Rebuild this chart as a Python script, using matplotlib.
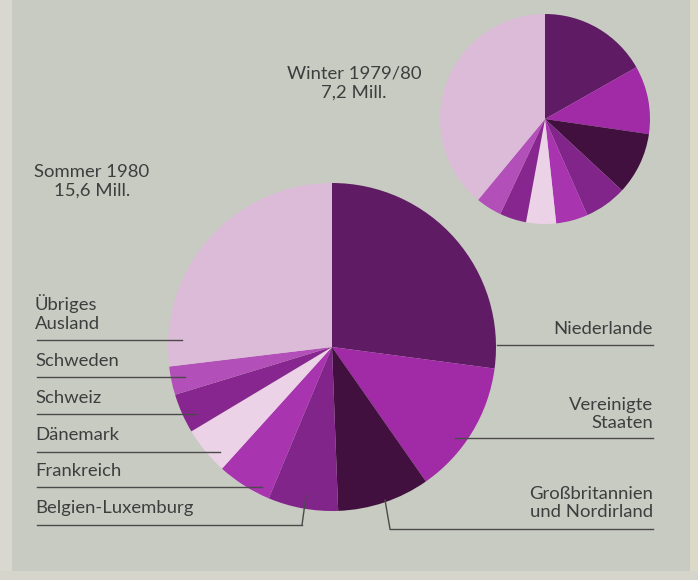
import numpy as np
import matplotlib.pyplot as plt
from matplotlib.patches import Rectangle

plt.rcParams['font.family'] = ['Lato', 'DejaVu Sans']

# Anteile (in %) der Übernachtungen von Auslandsgästen
laender = ['Niederlande', 'Vereinigte\nStaaten', 'Großbritannien\nund Nordirland',
           'Belgien-Luxemburg', 'Frankreich', 'Dänemark', 'Schweiz', 'Schweden',
           'Übriges\nAusland']
sommer_1980 = [27.1, 13.2, 9.1, 6.9, 5.4, 4.7, 3.9, 2.8, 26.9]
winter_1979 = [16.8, 10.5, 9.6, 6.5, 4.9, 4.6, 4.1, 4.0, 39.0]
titel_sommer = 'Sommer 1980\n15,6 Mill.'
titel_winter = 'Winter 1979/80\n7,2 Mill.'

farben = ['#5f1b63', '#a12ba6', '#41103f', '#82258a', '#a834b0',
          '#ecd2e6', '#88268f', '#b34fb8', '#dcbbd8']

bg = '#c8cbc2'
txt = '#3e3e3e'
W, H = 698, 580

fig = plt.figure(figsize=(W / 100, H / 100), dpi=100)
fig.patch.set_facecolor(bg)
ax = fig.add_axes([0, 0, 1, 1])
ax.set_facecolor(bg)

# y axis runs downwards (pixel-like), so counterclock=True draws clockwise on screen
big_c, big_r = (332, 347), 164
small_c, small_r = (545, 119), 105

ax.pie(sommer_1980, colors=farben, center=big_c, radius=big_r,
       startangle=-90, counterclock=True, frame=True,
       wedgeprops=dict(linewidth=0))
ax.pie(winter_1979, colors=farben, center=small_c, radius=small_r,
       startangle=-90, counterclock=True, frame=True,
       wedgeprops=dict(linewidth=0))

ax.set_xlim(0, W)
ax.set_ylim(H, 0)
ax.set_aspect('equal')
ax.axis('off')

# scan borders
ax.add_patch(Rectangle((0, 0), 12, H, color='#d8d8ce', lw=0, zorder=0.5))
ax.add_patch(Rectangle((690, 0), W - 690, H, color='#ddd9c9', lw=0, zorder=0.5))
ax.add_patch(Rectangle((0, 571), W, H - 571, color='#d6d5cb', lw=0, zorder=0.5))

fs = 13.3
ls = 1.2
ax.text(354, 83, titel_winter, ha='center', va='center', fontsize=fs,
        color=txt, linespacing=ls)
ax.text(92, 181, titel_sommer, ha='center', va='center', fontsize=fs,
        color=txt, linespacing=ls)

lc = '#4a4a4a'
# left side labels: (index, text y, line y, line end x)
links = [(8, 313, 340, 182), (7, 361, 377, 185), (6, 398, 414, 197),
         (5, 435, 452, 220), (4, 471, 487, 262), (3, 508, 525, 302)]
for i, ty, ly, ex in links:
    ax.text(35, ty, laender[i], ha='left', va='center', fontsize=fs,
            color=txt, linespacing=ls)
    ax.plot([37, ex], [ly, ly], color=lc, lw=1)
ax.plot([302, 306], [525, 496], color=lc, lw=1)

# right side labels
rechts = [(0, 329, 345, 497), (1, 414, 438, 455), (2, 503, 529, 390)]
for i, ty, ly, sx in rechts:
    ax.text(653, ty, laender[i], ha='right', va='center', fontsize=fs,
            color=txt, linespacing=ls, multialignment='right')
    ax.plot([sx, 653], [ly, ly], color=lc, lw=1)
ax.plot([390, 385], [529, 500], color=lc, lw=1)

fig.savefig('out.png', dpi=100, facecolor=bg)
